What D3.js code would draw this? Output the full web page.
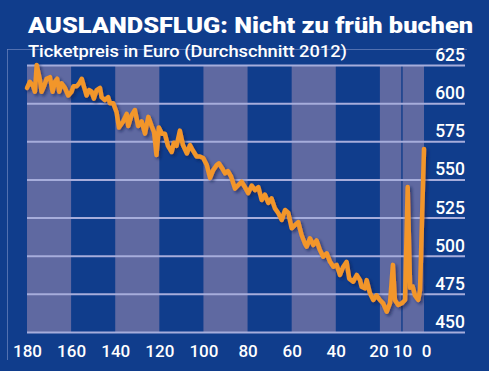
<!DOCTYPE html>
<html>
<head>
<meta charset="utf-8">
<script src="https://cdn.jsdelivr.net/npm/d3@7"></script>
<style>
  body { margin: 0; background: #103d8c; }
  svg { display: block; }
  text { font-family: Roboto, "DejaVu Sans Condensed", sans-serif; fill: #fff; }
</style>
</head>
<body>
<svg id="chart" width="489" height="371"></svg>
<script>

// days before departure (x) and average ticket price in euro (y)
var days = [180, 178.7, 177.2, 176.4, 175.6, 174.1, 173.4, 172.3, 171.1, 169.6,
  168.4, 167.3, 166.3, 165.4, 164.3, 162.8, 161.3, 159.8, 159, 157.5,
  156.3, 155.2, 154.2, 153, 151.8, 150.7, 149.7, 148.4, 146.9, 146.2,
  144.7, 143.2, 142.4, 140.9, 139.4, 138.3, 136.4, 134.8, 134.1, 132.6,
  131.1, 129.6, 128, 126.5, 125, 123.5, 122.4, 121.3, 120.2, 118.8,
  117.5, 116.1, 114.4, 113.4, 112.2, 110.7, 109.3, 107.5, 106.1, 104.8,
  103.1, 101.6, 100.1, 98.5, 97, 95.6, 94, 93, 91.6, 90.2,
  88.9, 87.5, 85.7, 84.4, 82.7, 81.2, 79.7, 78.1, 76.6, 75.1,
  73.6, 72.1, 70.6, 69.1, 67.6, 66.1, 64.5, 63, 61.5, 60,
  58.5, 57, 55.5, 54, 53.2, 51.7, 50.2, 48.7, 47.2, 45.7,
  44.1, 42.6, 41.1, 39.6, 38.1, 36.6, 35.1, 33.9, 32.1, 30.5,
  29, 28.3, 26.8, 26, 24.5, 23, 21.5, 20, 18.5, 16.9,
  15.4, 14.1, 13.2, 11.7, 10.1, 8.6, 7.4, 6.3, 5.1, 4.1,
  2.6, 1.8, 0];
var prices = [610, 614, 611, 607.5, 625, 615, 607.5, 611, 616, 617,
  607.5, 614, 616, 607.5, 613, 610, 605, 607.5, 611, 611,
  613, 616, 611, 605, 608.6, 607.5, 603, 608.6, 610, 604,
  602, 604, 600, 600, 594, 584, 588, 593, 585, 592,
  595.5, 585, 588, 580, 591, 585, 581, 566, 584, 580,
  580, 572, 568, 574, 572, 582, 572.6, 567, 572.6, 569,
  565, 565, 564, 559.5, 551, 556, 559.5, 560.6, 557.5, 554,
  555.5, 552, 544, 546, 548.5, 545, 541, 546, 543, 545,
  536.5, 540, 534.6, 537.6, 531, 528, 523.4, 530, 528, 518,
  520, 522, 513.6, 508, 506, 511.4, 507, 510, 503.7, 499.4,
  501.6, 496, 492.8, 494, 487.4, 492.8, 496, 485, 483, 487.4,
  484, 479.7, 478.6, 484, 475.4, 471, 474, 471, 468.8, 463.3,
  469, 494, 471, 467.7, 468.8, 471, 545, 479, 479.7, 474,
  471, 477.5, 570];

var xTicks = [180, 160, 140, 120, 100, 80, 60, 40, 20, 10, 0];
var yTicks = [450, 475, 500, 525, 550, 575, 600, 625];
// shaded bands (start, end in days)
var bands = [[180, 160], [140, 120], [100, 80], [60, 40], [20, 0]];

var svg = d3.select("#chart");
var W = 489, H = 371;
var plotLeft = 27, plotRight = 424, plotTop = 65, plotBottom = 332, gridRight = 465;
var font = "Roboto, 'DejaVu Sans Condensed', sans-serif";

svg.append("rect").attr("width", W).attr("height", H).attr("fill", "#103d8c");

var x = d3.scaleLinear().domain([180, 0]).range([plotLeft, plotRight]);
var y = d3.scaleLinear().domain([450, 625]).range([plotBottom, plotTop]);

// faint frame lines
svg.append("line").attr("x1", 7).attr("x2", gridRight + 2).attr("y1", 49.5).attr("y2", 49.5)
  .attr("stroke", "#6f86c0").attr("stroke-width", 1).attr("opacity", 0.7);
svg.append("line").attr("x1", 7.5).attr("x2", 7.5).attr("y1", 49).attr("y2", 360)
  .attr("stroke", "#6f86c0").attr("stroke-width", 1).attr("opacity", 0.7);

// bands
svg.append("g").selectAll("rect").data(bands).enter().append("rect")
  .attr("x", function(d){ return x(d[0]); })
  .attr("width", function(d){ return x(d[1]) - x(d[0]); })
  .attr("y", plotTop).attr("height", plotBottom - plotTop)
  .attr("fill", "#5f69a1");

// marker line at 10 days
svg.append("line").attr("x1", x(10)).attr("x2", x(10)).attr("y1", plotTop).attr("y2", plotBottom)
  .attr("stroke", "#17418c").attr("stroke-width", 1.5);

// y axis: grid lines + labels above them
var yAxis = d3.axisLeft(y).tickValues(yTicks).tickSize(gridRight - plotLeft).tickPadding(0);
var gy = svg.append("g").attr("transform", "translate(" + gridRight + ",0)").call(yAxis);
gy.select(".domain").remove();
gy.selectAll(".tick line").attr("stroke", "#a6addb").attr("stroke-width", 2);
gy.selectAll(".tick text")
  .attr("x", 0).attr("dy", -4.5)
  .attr("font-size", 17.5).attr("font-weight", 500).attr("fill", "#fff")
  .style("font-family", font);

// x axis labels
var xAxis = d3.axisBottom(x).tickValues(xTicks).tickSize(0).tickPadding(0);
var gx = svg.append("g").attr("transform", "translate(0,357)").call(xAxis);
gx.select(".domain").remove();
gx.selectAll(".tick text")
  .attr("dy", 0).attr("y", 0)
  .attr("font-size", 17).attr("font-weight", 500).attr("fill", "#fff")
  .style("font-family", font);
// the reference nudges the last label a bit to the right
gx.selectAll(".tick").filter(function(d){ return d === 0; }).select("text").attr("x", 2);
gx.selectAll(".tick").filter(function(d){ return d === 20; }).select("text").attr("x", -1.5);

// drop shadow for the line
var defs = svg.append("defs");
var f = defs.append("filter").attr("id", "shadow").attr("x", "-10%").attr("y", "-10%")
  .attr("width", "130%").attr("height", "130%");
f.append("feDropShadow").attr("dx", 2).attr("dy", 2).attr("stdDeviation", 1.5)
  .attr("flood-color", "#0a1f4d").attr("flood-opacity", 0.6);

var data = days.map(function(d, i){ return {x: d, y: prices[i]}; });
var line = d3.line().x(function(d){ return x(d.x); }).y(function(d){ return y(d.y); });

svg.append("path").datum(data)
  .attr("d", line)
  .attr("fill", "none")
  .attr("stroke", "#f2962a")
  .attr("stroke-width", 4.5)
  .attr("stroke-linejoin", "round")
  .attr("stroke-linecap", "round")
  .attr("filter", "url(#shadow)");

// title
svg.append("text").attr("x", 28).attr("y", 33)
  .attr("font-size", 22).attr("font-weight", 900)
  .attr("textLength", 445).attr("lengthAdjust", "spacingAndGlyphs")
  .text("AUSLANDSFLUG: Nicht zu früh buchen");

svg.append("text").attr("x", 28).attr("y", 57)
  .attr("font-size", 17).attr("font-weight", 500)
  .attr("textLength", 319).attr("lengthAdjust", "spacingAndGlyphs")
  .text("Ticketpreis in Euro (Durchschnitt 2012)");

</script>
</body>
</html>
